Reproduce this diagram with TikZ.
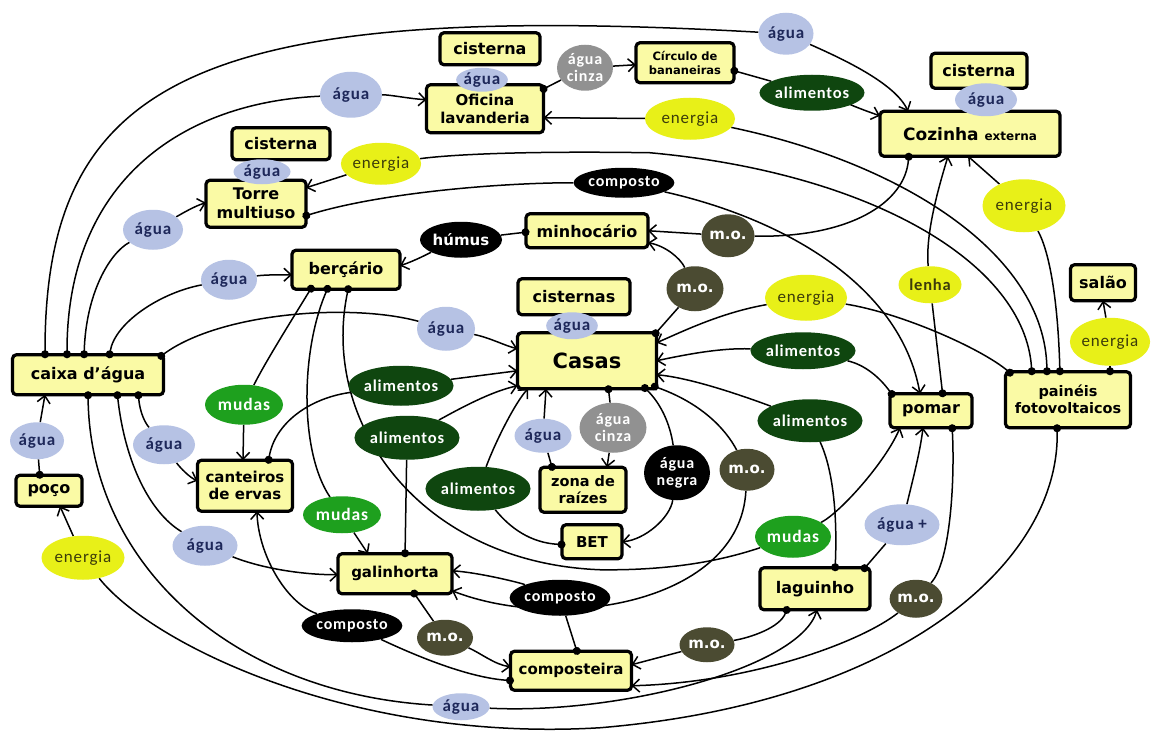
\documentclass[tikz,border=0pt]{standalone}
\usepackage{fontspec}
\setmainfont{DejaVu Sans}
\newfontfamily\lab[LetterSpace=5]{Carlito}
\usetikzlibrary{shapes.geometric,arrows.meta}
\pgfdeclarelayer{bgl}\pgfdeclarelayer{boxes}\pgfdeclarelayer{lines}
\pgfsetlayers{bgl,boxes,lines,main}
\definecolor{cBox}{RGB}{250,250,165}
\definecolor{cAgua}{RGB}{182,194,228}
\definecolor{cAguaT}{RGB}{30,40,90}
\definecolor{cEn}{RGB}{232,240,24}
\definecolor{cEnT}{RGB}{60,60,10}
\definecolor{cAlim}{RGB}{15,70,15}
\definecolor{cMudas}{RGB}{30,160,30}
\definecolor{cMo}{RGB}{75,75,50}
\definecolor{cCinza}{RGB}{145,145,145}
\tikzset{
 bx/.style={draw=black, line width=3.2pt, rounded corners=4pt, fill=cBox, align=center, inner sep=0pt, font=\bfseries\fontsize{16}{19}\selectfont},
 el/.style={ellipse, inner sep=0pt, align=center},
 agua/.style={el, fill=cAgua, text=cAguaT, font=\lab\bfseries\fontsize{17}{17}\selectfont},
 energia/.style={el, fill=cEn, text=cEnT, font=\lab\fontsize{17}{17}\selectfont},
 alim/.style={el, fill=cAlim, text=white, font=\lab\bfseries\fontsize{16.5}{17}\selectfont},
 mudas/.style={el, fill=cMudas, text=white, font=\lab\bfseries\fontsize{17.5}{17}\selectfont},
 preto/.style={el, fill=black, text=white, font=\lab\bfseries\fontsize{16}{17}\selectfont},
 mo/.style={el, fill=cMo, text=white, font=\bfseries\fontsize{15}{15}\selectfont},
 cinza/.style={el, fill=cCinza, text=white, font=\lab\bfseries\fontsize{16}{17}\selectfont},
 ln/.style={draw=black, line width=1.5pt},
 src/.style={ln, {Circle[length=8pt]}-},
 tgt/.style={ln, -{Straight Barb[length=7pt,width=13pt]}},
}
\begin{document}
\begin{tikzpicture}[x=1pt,y=-1pt]
\begin{pgfonlayer}{bgl}
\path[fill=white,use as bounding box] (0,0) rectangle (1151,728);
\end{pgfonlayer}
% ---------------- boxes
\begin{pgfonlayer}{boxes}
\node[bx,minimum width=100pt,minimum height=32pt] (cistA) at (490,46) {cisterna};
\node[bx,minimum width=117pt,minimum height=48pt,font=\bfseries\fontsize{15}{18}\selectfont] (oficina) at (485,106) {Oficina\\lavanderia};
\node[bx,minimum width=98pt,minimum height=40pt,font=\bfseries\fontsize{11.5}{14}\selectfont] (circulo) at (685,60) {Círculo de\\bananeiras};
\node[bx,minimum width=98pt,minimum height=32pt] (cistB) at (281,141) {cisterna};
\node[bx,minimum width=100pt,minimum height=47pt] (torre) at (256,201) {Torre\\multiuso};
\node[bx,minimum width=96pt,minimum height=35pt] (cistC) at (979,68) {cisterna};
\node[bx,minimum width=180pt,minimum height=45pt,font=\bfseries\fontsize{17}{19}\selectfont] (cozinha) at (970,131) {Cozinha {\fontsize{12}{12}\selectfont externa}};
\node[bx,minimum width=122pt,minimum height=34pt] (minhocario) at (587,228) {minhocário};
\node[bx,minimum width=108pt,minimum height=39pt] (bercario) at (346,267) {berçário};
\node[bx,minimum width=112pt,minimum height=36pt] (cisternas) at (574,294) {cisternas};
\node[bx,minimum width=139pt,minimum height=56pt,font=\bfseries\fontsize{21}{24}\selectfont] (casas) at (587,358) {Casas};
\node[bx,minimum width=151pt,minimum height=40pt] (caixa) at (88,372) {caixa d\char39 água};
\node[bx,minimum width=66pt,minimum height=31pt] (poco) at (49,488) {poço};
\node[bx,minimum width=95pt,minimum height=51pt,font=\bfseries\fontsize{15}{17}\selectfont] (canteiros) at (245,483) {canteiros\\de ervas};
\node[bx,minimum width=86pt,minimum height=45pt,font=\bfseries\fontsize{14.5}{17}\selectfont] (zona) at (583,487) {zona de\\raízes};
\node[bx,minimum width=60pt,minimum height=34pt,font=\bfseries\fontsize{15}{17}\selectfont] (bet) at (592,539) {BET};
\node[bx,minimum width=114pt,minimum height=40pt,font=\bfseries\fontsize{15}{17}\selectfont] (galinhorta) at (395,571) {galinhorta};
\node[bx,minimum width=121pt,minimum height=39pt,font=\bfseries\fontsize{15}{17}\selectfont] (composteira) at (571,668) {composteira};
\node[bx,minimum width=110pt,minimum height=42pt] (laguinho) at (815,586) {laguinho};
\node[bx,minimum width=82pt,minimum height=34pt] (pomar) at (931,408) {pomar};
\node[bx,minimum width=125pt,minimum height=56pt,font=\bfseries\fontsize{14.5}{17}\selectfont] (paineis) at (1068,397) {painéis\\fotovoltaicos};
\node[bx,minimum width=65pt,minimum height=36pt] (salao) at (1103,280) {salão};
\end{pgfonlayer}
% ---------------- ellipses
\node[agua,minimum width=55pt,minimum height=42pt] (aguaTop) at (786,31) {água};
\node[agua,minimum width=50pt,minimum height=24pt] (aguaOf) at (482,77) {água};
\node[cinza,minimum width=56pt,minimum height=46pt] (cinzaA) at (585,65) {água\\cinza};
\node[agua,minimum width=62pt,minimum height=46pt] (aguaL1) at (351,92) {água};
\node[energia,minimum width=90pt,minimum height=42pt] (energiaA) at (690,116) {energia};
\node[alim,minimum width=101pt,minimum height=36pt] (alimA) at (812,90) {alimentos};
\node[agua,minimum width=62pt,minimum height=33pt] (aguaCoz) at (986,97) {água};
\node[energia,minimum width=78pt,minimum height=42pt] (energiaB) at (381,161) {energia};
\node[agua,minimum width=57pt,minimum height=25pt] (aguaTorre) at (262,169) {água};
\node[preto,minimum width=95pt,minimum height=30pt] (compostoA) at (624,180) {composto};
\node[agua,minimum width=60pt,minimum height=40pt] (aguaL2) at (153,227) {água};
\node[mo,minimum width=53pt,minimum height=43pt] (moA) at (728,233) {m.o.};
\node[preto,minimum width=82pt,minimum height=36pt,font=\bfseries\fontsize{15}{15}\selectfont] (humus) at (461,237) {húmus};
\node[agua,minimum width=56pt,minimum height=40pt] (aguaL3) at (229,277) {água};
\node[mo,minimum width=57pt,minimum height=45pt] (moB) at (695,286) {m.o.};
\node[agua,minimum width=50pt,minimum height=27pt] (aguaCas) at (572,323) {água};
\node[agua,minimum width=58pt,minimum height=44pt] (aguaL4) at (446,326) {água};
\node[energia,minimum width=82pt,minimum height=46pt] (energiaC) at (806,295) {energia};
\node[energia,minimum width=63pt,minimum height=37pt,font=\lab\bfseries\fontsize{16.5}{17}\selectfont] (lenha) at (930,282) {lenha};
\node[energia,minimum width=83pt,minimum height=53pt] (energiaD) at (1024,203) {energia};
\node[energia,minimum width=80pt,minimum height=48pt] (energiaE) at (1110,339) {energia};
\node[alim,minimum width=103pt,minimum height=37pt] (alimB) at (803,348) {alimentos};
\node[alim,minimum width=97pt,minimum height=43pt] (alimC) at (810,418) {alimentos};
\node[alim,minimum width=105pt,minimum height=40pt] (alimD) at (401,383) {alimentos};
\node[alim,minimum width=93pt,minimum height=44pt] (alimE) at (407,435) {alimentos};
\node[mudas,minimum width=78pt,minimum height=40pt] (mudasA) at (244,402) {mudas};
\node[agua,minimum width=54pt,minimum height=37pt] (aguaPoco) at (37,438) {água};
\node[agua,minimum width=62pt,minimum height=39pt] (aguaCant) at (164,442) {água};
\node[agua,minimum width=57pt,minimum height=34pt] (aguaZona) at (543,433) {água};
\node[cinza,minimum width=67pt,minimum height=50pt] (cinzaB) at (613,425) {água\\cinza};
\node[alim,minimum width=99pt,minimum height=44pt] (alimF) at (478,486) {alimentos};
\node[preto,minimum width=66pt,minimum height=55pt] (negra) at (677,470) {água\\negra};
\node[mo,minimum width=55pt,minimum height=42pt] (moC) at (747,467) {m.o.};
\node[mudas,minimum width=78pt,minimum height=37pt] (mudasB) at (342,512) {mudas};
\node[mudas,minimum width=76pt,minimum height=42pt] (mudasC) at (793,534) {mudas};
\node[agua,minimum width=75pt,minimum height=41pt] (aguaPlus) at (902,522) {água +};
\node[agua,minimum width=65pt,minimum height=40pt] (aguaGal) at (205,543) {água};
\node[energia,minimum width=83pt,minimum height=44pt] (energiaF) at (83,555) {energia};
\node[preto,minimum width=100pt,minimum height=36pt] (compostoB) at (560,595) {composto};
\node[preto,minimum width=95pt,minimum height=33pt] (compostoC) at (352,623) {composto};
\node[mo,minimum width=56pt,minimum height=36pt] (moD) at (445,635) {m.o.};
\node[mo,minimum width=55pt,minimum height=35pt] (moE) at (707,642) {m.o.};
\node[mo,minimum width=52pt,minimum height=38pt] (moF) at (916,596) {m.o.};
\node[agua,minimum width=57pt,minimum height=27pt] (aguaBot) at (461,704) {água};
% ---------------- connectors
\begin{pgfonlayer}{lines}
% caixa d'agua
\draw[src] ([shift={(-43,-16.5)}]caixa.center) .. controls (45,75) and (200,-2) .. (aguaTop);
\draw[tgt] (aguaTop) .. controls (840,55) and (895,80) .. ([shift={(-62,-22.5)}]cozinha.center);
\draw[src] ([shift={(-21,-16.5)}]caixa.center) .. controls (67,180) and (180,100) .. (aguaL1);
\draw[tgt] (aguaL1) .. controls (390,92) and (410,96) .. ([shift={(-58.5,-9)}]oficina.center);
\draw[src] ([shift={(-4,-16.5)}]caixa.center) .. controls (86,290) and (110,250) .. (aguaL2);
\draw[tgt] (aguaL2) .. controls (180,212) and (195,203) .. ([shift={(-50,-1)}]torre.center);
\draw[src] ([shift={(21,-16.5)}]caixa.center) .. controls (115,320) and (160,290) .. (aguaL3);
\draw[tgt] (aguaL3) .. controls (265,272) and (280,272) .. ([shift={(-54,5)}]bercario.center);
\draw[src] ([shift={(70,-16.5)}]caixa.center) .. controls (220,310) and (350,300) .. (aguaL4);
\draw[tgt] (aguaL4) .. controls (490,335) and (505,343) .. ([shift={(-69.5,-12)}]casas.center);
\draw[src] ([shift={(50,16.5)}]caixa.center) .. controls (140,410) and (145,420) .. (aguaCant);
\draw[tgt] (aguaCant) .. controls (180,465) and (190,475) .. ([shift={(-47.5,-5)}]canteiros.center);
\draw[src] ([shift={(29,16.5)}]caixa.center) .. controls (125,460) and (150,510) .. (aguaGal);
\draw[tgt] (aguaGal) .. controls (260,565) and (300,572) .. ([shift={(-57,1)}]galinhorta.center);
\draw[src] ([shift={(0,16.5)}]caixa.center) .. controls (90,560) and (230,690) .. (aguaBot);
\draw[tgt] (aguaBot) .. controls (620,712) and (800,665) .. ([shift={(2,21)}]laguinho.center);
\draw[src] ([shift={(-9,-12)}]poco.center) -- (aguaPoco);
\draw[tgt] (aguaPoco) -- ([shift={(-43,20)}]caixa.center);
% paineis
\draw[src] ([shift={(-11,24.5)}]paineis.center) .. controls (1060,560) and (900,700) .. (600,725) .. controls (350,740) and (150,640) .. (energiaF);
\draw[tgt] (energiaF) -- ([shift={(11,15.5)}]poco.center);
\draw[src] ([shift={(-55,-24.5)}]paineis.center) .. controls (980,345) and (900,310) .. (energiaC);
\draw[tgt] (energiaC) .. controls (720,310) and (680,330) .. ([shift={(69.5,-18)}]casas.center);
\draw[src] ([shift={(-8,-24.5)}]paineis.center) .. controls (1058,300) and (1050,250) .. (energiaD);
\draw[tgt] (energiaD) -- ([shift={(-2,22.5)}]cozinha.center);
\draw[src] ([shift={(42,-24.5)}]paineis.center) -- (energiaE);
\draw[tgt] (energiaE) -- ([shift={(0,18)}]salao.center);
\draw[src] ([shift={(-21,-24.5)}]paineis.center) .. controls (1045,250) and (900,160) .. (energiaA);
\draw[tgt] (energiaA) -- ([shift={(58.5,9)}]oficina.center);
\draw[src] ([shift={(-36,-24.5)}]paineis.center) .. controls (1025,260) and (870,170) .. (650,150) .. controls (520,148) and (450,152) .. (energiaB);
\draw[tgt] (energiaB) -- ([shift={(50,-16)}]torre.center);
% bercario
\draw[src] ([shift={(-33,15.5)}]bercario.center) .. controls (290,320) and (265,360) .. (mudasA);
\draw[tgt] (mudasA) -- ([shift={(-2,-25.5)}]canteiros.center);
\draw[src] ([shift={(-17,15.5)}]bercario.center) .. controls (300,350) and (300,450) .. (mudasB);
\draw[tgt] (mudasB) -- ([shift={(-27,-20)}]galinhorta.center);
\draw[src] ([shift={(3,15.5)}]bercario.center) .. controls (320,420) and (420,560) .. (600,567) .. controls (680,568) and (730,555) .. (mudasC);
\draw[tgt] (mudasC) .. controls (840,510) and (885,460) .. ([shift={(-31,17)}]pomar.center);
% minhocario, cozinha
\draw[src] ([shift={(-57.5,1)}]minhocario.center) -- (humus);
\draw[tgt] (humus) .. controls (430,250) and (415,258) .. ([shift={(54,-4)}]bercario.center);
\draw[src] ([shift={(-61,19)}]cozinha.center) .. controls (905,200) and (850,235) .. (moA);
\draw[tgt] (moA) -- ([shift={(61,0)}]minhocario.center);
\draw[src] ([shift={(66,-24.5)}]casas.center) -- (moB);
\draw[tgt] (moB) .. controls (680,255) and (665,243) .. ([shift={(61,12)}]minhocario.center);
% oficina, circulo
\draw[src] ([shift={(55,-18)}]oficina.center) -- (cinzaA);
\draw[tgt] (cinzaA) -- ([shift={(-49,2)}]circulo.center);
\draw[src] ([shift={(45.5,7)}]circulo.center) -- (alimA);
\draw[tgt] (alimA) .. controls (845,100) and (865,108) .. ([shift={(-90,-18)}]cozinha.center);
% pomar, laguinho
\draw[src] ([shift={(-37,-13.5)}]pomar.center) .. controls (880,375) and (865,362) .. (alimB);
\draw[tgt] (alimB) .. controls (720,345) and (685,352) .. ([shift={(69.5,0)}]casas.center);
\draw[src] ([shift={(20,-17.5)}]laguinho.center) .. controls (838,500) and (830,460) .. (alimC);
\draw[tgt] (alimC) .. controls (740,392) and (690,375) .. ([shift={(69.5,14)}]casas.center);
\draw[src] ([shift={(12,-13.5)}]pomar.center) -- (lenha);
\draw[tgt] (lenha) .. controls (925,230) and (940,180) .. ([shift={(-22,22.5)}]cozinha.center);
\draw[src] ([shift={(21,13.5)}]pomar.center) .. controls (955,480) and (950,560) .. (moF);
\draw[tgt] (moF) .. controls (860,640) and (750,680) .. ([shift={(60.5,15)}]composteira.center);
\draw[src] ([shift={(-27,17.5)}]laguinho.center) .. controls (780,625) and (750,635) .. (moE);
\draw[tgt] (moE) -- ([shift={(60.5,-6)}]composteira.center);
\draw[src] ([shift={(47,-17.5)}]laguinho.center) -- (aguaPlus);
\draw[tgt] (aguaPlus) .. controls (912,480) and (920,450) .. ([shift={(-8,17)}]pomar.center);
% casas inputs
\draw[src] ([shift={(23,-22)}]canteiros.center) .. controls (275,420) and (310,395) .. (alimD);
\draw[tgt] (alimD) -- ([shift={(-69.5,10)}]casas.center);
\draw[src] ([shift={(10,-16.5)}]galinhorta.center) -- (alimE);
\draw[tgt] (alimE) .. controls (470,400) and (495,388) .. ([shift={(-69.5,25)}]casas.center);
\draw[src] ([shift={(-26.5,3)}]bet.center) .. controls (530,540) and (510,525) .. (alimF);
\draw[tgt] (alimF) .. controls (495,440) and (515,400) .. ([shift={(-59,28)}]casas.center);
\draw[src] ([shift={(-30,-19)}]zona.center) -- (aguaZona);
\draw[tgt] (aguaZona) -- ([shift={(-41,28)}]casas.center);
\draw[src] ([shift={(21,24.5)}]casas.center) -- (cinzaB);
\draw[tgt] (cinzaB) -- ([shift={(24,-22.5)}]zona.center);
\draw[src] ([shift={(55,24.5)}]casas.center) .. controls (660,400) and (670,420) .. (negra);
\draw[tgt] (negra) .. controls (670,515) and (645,537) .. ([shift={(30,0)}]bet.center);
\draw[src] ([shift={(64,24.5)}]casas.center) .. controls (700,400) and (725,425) .. (moC);
\draw[tgt] (moC) .. controls (740,600) and (560,630) .. ([shift={(57,17)}]galinhorta.center);
% composteira
\draw[src] ([shift={(7,-16)}]composteira.center) -- (compostoB);
\draw[tgt] (compostoB) .. controls (520,580) and (480,570) .. ([shift={(57,-3)}]galinhorta.center);
\draw[src] ([shift={(17,16.5)}]galinhorta.center) -- (moD);
\draw[tgt] (moD) .. controls (480,650) and (495,662) .. ([shift={(-60.5,-4)}]composteira.center);
\draw[src] ([shift={(-57,10)}]composteira.center) .. controls (470,675) and (420,655) .. (compostoC);
\draw[tgt] (compostoC) .. controls (285,600) and (258,550) .. ([shift={(12,25.5)}]canteiros.center);
% torre
\draw[src] ([shift={(46.5,13)}]torre.center) .. controls (380,190) and (500,180) .. (compostoA);
\draw[tgt] (compostoA) .. controls (780,215) and (900,280) .. ([shift={(-11,-17)}]pomar.center);
\end{pgfonlayer}
\end{tikzpicture}
\end{document}
